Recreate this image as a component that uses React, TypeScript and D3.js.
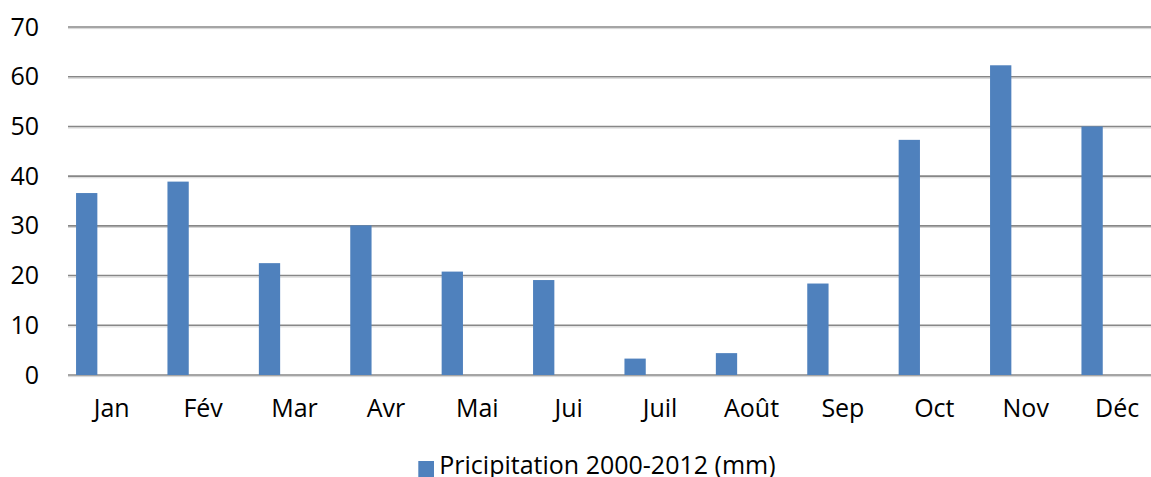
import React from "react";
import * as d3 from "d3";

const months = ["Jan", "Fév", "Mar", "Avr", "Mai", "Jui", "Juil", "Août", "Sep", "Oct", "Nov", "Déc"];
const precipitation = [36.6, 38.9, 22.5, 30.1, 20.8, 19.1, 3.3, 4.4, 18.4, 47.3, 62.3, 50.0];
const yTicks = [0, 10, 20, 30, 40, 50, 60, 70];
const seriesName = "Pricipitation 2000-2012 (mm)";

const W = 1151;
const H = 477;
const FONT = "'Open Sans', 'DejaVu Sans', sans-serif";

export default function App() {
  const y = d3.scaleLinear().domain([0, 70]).range([375, 27]);
  const x = d3.scaleBand<string>().domain(months).range([66, 1162.8]).padding(0);
  const bw = x.bandwidth();
  const barOffset = bw * 0.11;
  const barWidth = bw * 0.233;

  return (
    <svg
      width={W}
      height={H}
      style={{ position: "absolute", left: 0, top: 0, background: "#fff" }}
      fontFamily={FONT}
    >
      <rect x={0} y={0} width={W} height={H} fill="#fff" />
      {yTicks.map((t) => (
        <g key={t}>
          <line x1={68} x2={W} y1={y(t) + 1.6} y2={y(t) + 1.6} stroke="#d6d6d6" strokeWidth={1} />
          <line x1={68} x2={W} y1={y(t)} y2={y(t)} stroke="#878787" strokeWidth={1.6} />
          <text x={39} y={y(t) + 8.5} textAnchor="end" fontSize={25} fill="#000">
            {t}
          </text>
        </g>
      ))}
      {months.map((m, i) => (
        <rect
          key={m}
          x={(x(m) as number) + barOffset}
          y={y(precipitation[i])}
          width={barWidth}
          height={y(0) - y(precipitation[i])}
          fill="#4F81BD"
        />
      ))}
      {months.map((m) => (
        <text
          key={m}
          x={(x(m) as number) + bw / 2}
          y={417}
          textAnchor="middle"
          fontSize={25}
          fill="#000"
        >
          {m}
        </text>
      ))}
      <rect x={418.3} y={461} width={15.7} height={16} fill="#4F81BD" />
      <text x={439.3} y={474} fontSize={25} fill="#000">
        {seriesName}
      </text>
    </svg>
  );
}
